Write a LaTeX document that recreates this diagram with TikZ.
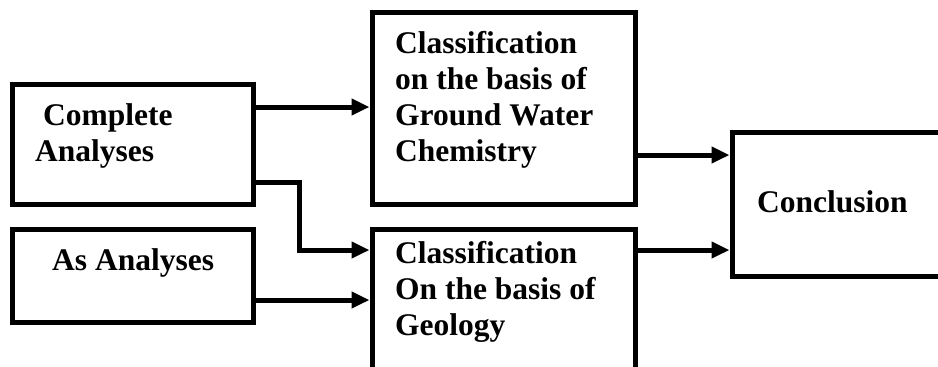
\documentclass[tikz,border=0pt]{standalone}
\usepackage{fontspec}
\setmainfont{Liberation Serif}
\usetikzlibrary{arrows.meta}

\tikzset{
  box/.style={draw, line width=5pt, inner sep=0pt},
  txt/.style={anchor=north west, inner sep=0pt, align=left,
    font=\fontsize{31.5}{36}\selectfont\bfseries},
  arr/.style={line width=5pt, -{Triangle[length=18pt,width=16pt]}}
}

\begin{document}
\begin{tikzpicture}[x=1pt,y=-1pt]

  % page frame, boxes on the right and bottom run off it
  \useasboundingbox (0,0) rectangle (938,367);
  \clip (0,0) rectangle (938,367);

  % boxes
  \node[box, minimum width=241pt, minimum height=120pt] (comp) at (132.5,144) {};% complete analyses
  \node[box, minimum width=241pt, minimum height=93pt] (asan) at (132.5,275.5) {};% as analyses
  \node[box, minimum width=263pt, minimum height=192pt] (gw) at (503.5,108) {};% ground water chemistry
  \node[box, minimum width=263pt, minimum height=191pt] (geo) at (503.5,324.5) {};% geology
  \node[box, minimum width=268pt, minimum height=144pt] (conc) at (866,204) {};% conclusion

  % texts
  \node[txt] (comptext) at (35,103) {\ Complete\\Analyses};
  \node[txt] (asantext) at (52,248) {As Analyses};
  \node[txt] (gwtext) at (395,31) {Classification\\on the basis of\\Ground Water\\Chemistry};
  \node[txt] (geotext) at (395,241) {Classification\\On the basis of\\Geology};
  \node[txt] (conctext) at (757,190) {Conclusion};

  % arrows
  \coordinate (a1) at ([yshift=37pt]comp.east);
  \draw[arr] (a1) -- (a1 -| gw.west);
  \coordinate (a2) at ([yshift=-38pt]comp.east);
  \draw[arr] (a2) -- ++(44,0) |- ([yshift=74.5pt]geo.west);
  \coordinate (a3) at ([yshift=-24.5pt]asan.east);
  \draw[arr] (a3) -- (a3 -| geo.west);
  \coordinate (a4) at ([yshift=-47pt]gw.east);
  \draw[arr] (a4) -- (a4 -| conc.west);
  \coordinate (a5) at ([yshift=74.5pt]geo.east);
  \draw[arr] (a5) -- (a5 -| conc.west);

\end{tikzpicture}
\end{document}
